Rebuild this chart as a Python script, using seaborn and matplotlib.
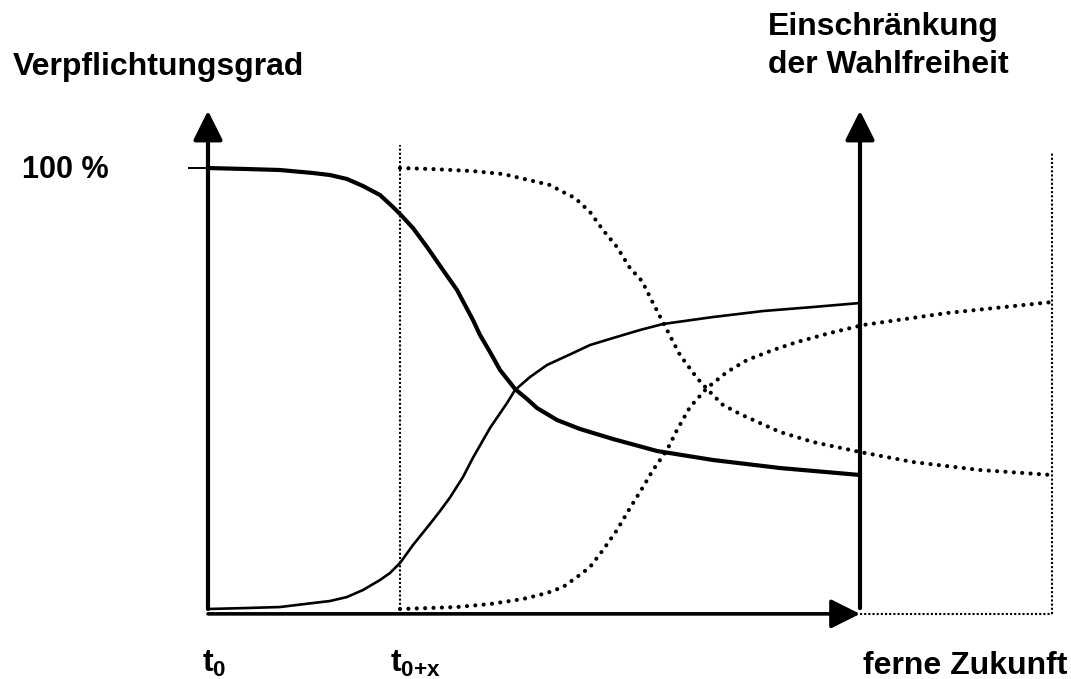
import pandas as pd
import seaborn as sns
import matplotlib.pyplot as plt

# time axis: t0 = 0, "ferne Zukunft" = 100; y axis: Verpflichtungsgrad in %
T_X = 29.45
T_FAR = 100
T_FAR_SHIFTED = 129.45

# Verpflichtungsgrad (thick solid)
commit_t = [0, 5.98, 11.04, 16.10, 18.71, 21.32, 23.77, 26.38, 28.37, 29.45, 31.44,
            33.59, 36.04, 38.19, 40.64, 41.72, 43.25, 44.79, 47.09, 48.93, 50.46,
            53.53, 57.06, 62.12, 68.87, 77.45, 87.73, 100]
commit_v = [100, 99.77, 99.55, 98.87, 98.41, 97.51, 95.92, 93.88, 91.16, 89.57, 86.39,
            82.09, 76.87, 72.34, 65.53, 62.13, 58.28, 54.20, 49.89, 47.62, 45.58,
            42.86, 40.82, 38.55, 35.83, 33.79, 31.97, 30.39]

# Einschraenkung der Wahlfreiheit (thin solid)
restr_t = [0, 5.98, 11.04, 16.10, 18.71, 21.32, 23.77, 26.38, 27.91, 29.45, 31.44,
           34.05, 35.58, 37.12, 39.11, 40.64, 43.25, 45.86, 47.09, 49.39, 51.99,
           55.98, 58.59, 62.12, 66.26, 69.79, 77.45, 85.12, 92.79, 100]
restr_v = [0, 0.23, 0.45, 1.36, 1.81, 2.72, 4.31, 6.58, 8.16, 10.43, 14.51,
           19.30, 22.20, 25.30, 29.93, 34.30, 41.04, 46.71, 49.66, 52.61, 55.33,
           58.05, 59.86, 61.45, 63.27, 64.63, 66.21, 67.57, 68.48, 69.39]

# the same two developments starting later at t0+x (dotted)
commit2_t = [29.45, 34.36, 40.49, 45.25, 49.85, 52.45, 54.45, 56.29, 58.59, 60.58,
             62.73, 64.72, 66.56, 68.25, 70.40, 72.39, 75.0, 76.69, 78.99, 81.60,
             84.66, 87.73, 92.79, 100, 108.13, 118.40, 129.45]
commit2_v = [100, 99.77, 99.32, 98.64, 97.05, 96.15, 94.56, 93.20, 90.02, 85.94,
             82.09, 77.32, 74.38, 69.39, 63.27, 57.60, 52.38, 49.66, 46.26, 44.22,
             42.18, 40.14, 37.87, 35.60, 33.33, 31.52, 30.39]

restr2_t = [29.45, 38.19, 43.25, 48.31, 51.99, 54.45, 56.60, 58.59, 60.58, 62.73,
            64.72, 66.72, 68.25, 70.40, 71.93, 73.93, 76.53, 79.60, 82.67, 86.66,
            90.34, 95.40, 100.46, 113.34, 129.45]
restr2_v = [0, 0.45, 1.13, 2.27, 3.63, 4.99, 7.26, 9.52, 13.38, 17.91,
            22.90, 27.66, 31.52, 36.05, 40.59, 45.80, 50.11, 53.74, 56.46, 58.73,
            60.54, 62.59, 64.40, 67.12, 69.61]

sns.set_theme(style="white")
plt.rcParams['font.family'] = ['Liberation Sans', 'DejaVu Sans']
plt.rcParams['font.weight'] = 'bold'
plt.rcParams['text.color'] = 'black'
plt.rcParams['lines.dash_capstyle'] = 'round'
plt.rcParams['mathtext.fontset'] = 'custom'
plt.rcParams['mathtext.rm'] = 'Liberation Sans:bold'
plt.rcParams['mathtext.it'] = 'Liberation Sans:bold'
plt.rcParams['mathtext.bf'] = 'Liberation Sans:bold'

fig = plt.figure(figsize=(10.71, 6.79), dpi=100)
ax = fig.add_axes([0, 0, 1, 1])
ax.set_xlim(-31.9, 132.36)
ax.set_ylim(-15.87, 138.1)
ax.axis('off')

dot = (0, (0.01, 2.0))

sns.lineplot(x=commit_t, y=commit_v, ax=ax, color='black', lw=3.0, sort=False)
sns.lineplot(x=restr_t, y=restr_v, ax=ax, color='black', lw=1.9, sort=False)
sns.lineplot(x=commit2_t, y=commit2_v, ax=ax, color='black', lw=3.0,
             linestyle=dot, dash_capstyle='round', sort=False)
sns.lineplot(x=restr2_t, y=restr2_v, ax=ax, color='black', lw=3.0,
             linestyle=dot, dash_capstyle='round', sort=False)

# axes with arrows
arrow = dict(arrowstyle='-|>,head_length=1.0,head_width=0.5', color='black',
             lw=3, shrinkA=0, shrinkB=0, mutation_scale=18)
ax.annotate('', xy=(0, 113), xytext=(0, 0), arrowprops=arrow)
ax.annotate('', xy=(T_FAR, 113), xytext=(T_FAR, 0.2), arrowprops=arrow)
ax.annotate('', xy=(T_FAR, -1.1), xytext=(0, -1.1),
            arrowprops=dict(arrow, lw=2.6))

# 100 % tick
ax.hlines(100, -3.0, 0, color='black', lw=1.4)

# dotted guide lines
thin_dot = dict(color='black', lw=1.5, linestyle=(0, (1, 1)))
ax.vlines(T_X, 0, 105.2, **thin_dot)
ax.vlines(T_FAR_SHIFTED, -1.1, 103.4, **thin_dot)
ax.hlines(-1.1, T_FAR, T_FAR_SHIFTED, **thin_dot)

fs = 23
txt = dict(fontsize=fs, fontweight='bold', color='black', va='baseline')
ax.text(-29.9, 121.1, "Verpflichtungsgrad", **txt)
ax.text(-28.5, 97.7, "100 %", fontsize=22, fontweight='bold', color='black', va='baseline')
ax.text(85.9, 130.2, "Einschränkung", **txt)
ax.text(85.9, 121.5, "der Wahlfreiheit", **txt)
ax.text(-0.9, -14.3, r"t$_0$", **txt)
ax.text(27.9, -14.3, r"t$_{0{+}x}$", **txt)
ax.text(100.5, -14.7, "ferne Zukunft", **txt)

plt.savefig("out.png", dpi=100)
